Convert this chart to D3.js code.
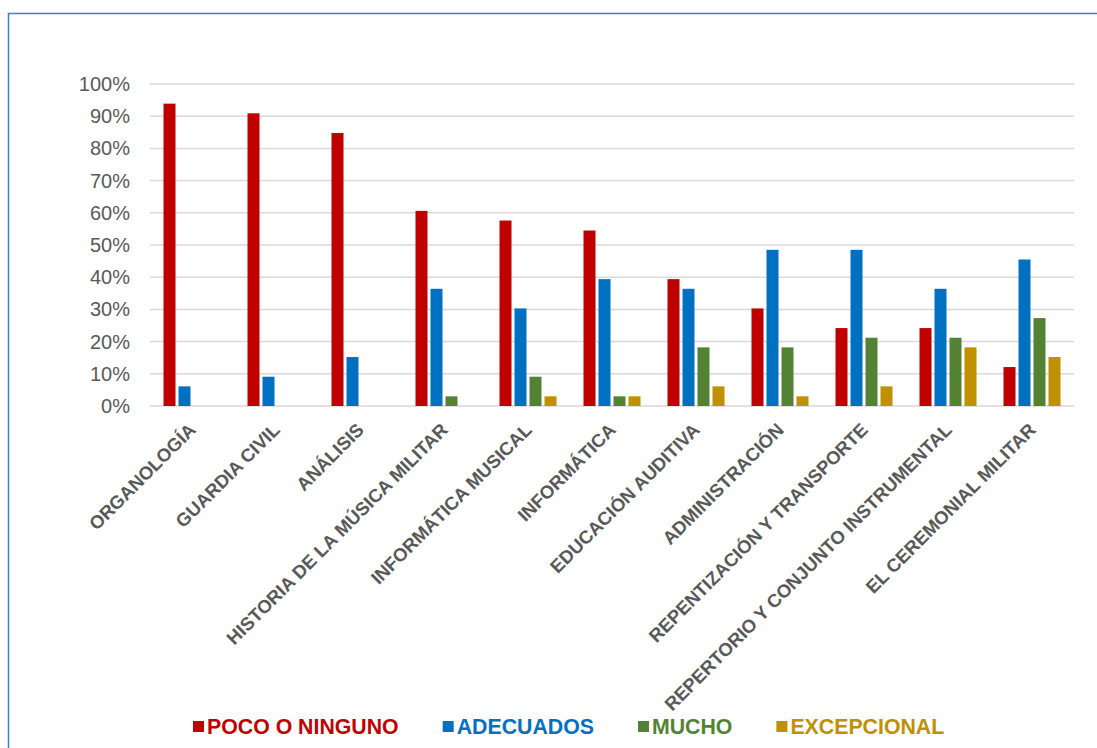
<!DOCTYPE html>
<html>
<head>
<meta charset="utf-8">
<script src="https://cdn.jsdelivr.net/npm/d3@7"></script>
<style>
  body { margin: 0; background: #fff; }
  svg { display: block; font-family: "Liberation Sans", Arial, sans-serif; }
</style>
</head>
<body>
<svg id="chart" width="1097" height="748"></svg>
<script>
// asignaturas
var categories = ["ORGANOLOGÍA", "GUARDIA CIVIL", "ANÁLISIS", "HISTORIA DE LA MÚSICA MILITAR",
    "INFORMÁTICA MUSICAL", "INFORMÁTICA", "EDUCACIÓN AUDITIVA", "ADMINISTRACIÓN",
    "REPENTIZACIÓN Y TRANSPORTE", "REPERTORIO Y CONJUNTO INSTRUMENTAL", "EL CEREMONIAL MILITAR"];
var seriesNames = ["POCO O NINGUNO", "ADECUADOS", "MUCHO", "EXCEPCIONAL"];
var seriesColors = ["#C00000", "#0070C0", "#548235", "#BF9000"];

// porcentajes por serie
var poco = [93.9, 90.9, 84.8, 60.6, 57.6, 54.5, 39.4, 30.3, 24.2, 24.2, 12.1];
var adecuados = [6.1, 9.1, 15.2, 36.4, 30.3, 39.4, 36.4, 48.5, 48.5, 36.4, 45.5];
var mucho = [0, 0, 0, 3.0, 9.1, 3.0, 18.2, 18.2, 21.2, 21.2, 27.3];
var excepcional = [0, 0, 0, 0, 3.0, 3.0, 6.1, 3.0, 6.1, 18.2, 15.2];
var yTicks = [0, 10, 20, 30, 40, 50, 60, 70, 80, 90, 100];

var values = [poco, adecuados, mucho, excepcional];

var svg = d3.select("#chart");
var plotLeft = 150, plotRight = 1074, plotTop = 84, plotBottom = 406;

// marco del grafico
svg.append("path")
    .attr("d", "M8.5,760V13.5H1110")
    .attr("fill", "none")
    .attr("stroke", "#3F7FC6")
    .attr("stroke-width", 1.5);

var x = d3.scaleBand().domain(categories).range([plotLeft, plotRight]);
var inner = d3.scaleBand().domain(d3.range(4)).range([0, 57]).paddingInner(0.2);
var y = d3.scaleLinear().domain([0, 100]).range([plotBottom, plotTop]);

// lineas de cuadricula
svg.append("g").selectAll("line")
    .data(yTicks)
    .join("line")
    .attr("x1", plotLeft).attr("x2", plotRight)
    .attr("y1", function (d) { return y(d); })
    .attr("y2", function (d) { return y(d); })
    .attr("stroke", "#D9D9D9")
    .attr("stroke-width", 1.5);

svg.append("g").selectAll("text")
    .data(yTicks)
    .join("text")
    .attr("x", 130)
    .attr("y", function (d) { return y(d); })
    .attr("dy", "0.35em")
    .attr("text-anchor", "end")
    .attr("font-size", 20)
    .attr("fill", "#595959")
    .text(function (d) { return d + "%"; });

// barras
var offset = (x.bandwidth() - 57) / 2;
values.forEach(function (serie, s) {
    svg.append("g").selectAll("rect")
        .data(serie)
        .join("rect")
        .attr("x", function (d, i) { return x(categories[i]) + offset + inner(s); })
        .attr("y", function (d) { return y(d); })
        .attr("width", inner.bandwidth())
        .attr("height", function (d) { return plotBottom - y(d); })
        .attr("fill", seriesColors[s]);
});

// etiquetas del eje x
svg.append("g").selectAll("text")
    .data(categories)
    .join("text")
    .attr("transform", function (d) {
        return "translate(" + (x(d) + x.bandwidth() / 2 + 5) + "," + 431 + ") rotate(-45)";
    })
    .attr("text-anchor", "end")
    .attr("font-size", 18.5)
    .attr("font-weight", "bold")
    .attr("fill", "#595959")
    .text(function (d) { return d; });

// leyenda
var lx = 193;
seriesNames.forEach(function (name, s) {
    svg.append("rect")
        .attr("x", lx).attr("y", 721)
        .attr("width", 11).attr("height", 11)
        .attr("fill", seriesColors[s]);
    var t = svg.append("text")
        .attr("x", lx + 14).attr("y", 727)
        .attr("dy", "0.35em")
        .attr("font-size", 21.3)
        .attr("font-weight", "bold")
        .attr("fill", seriesColors[s])
        .text(name);
    lx += 14 + t.node().getComputedTextLength() + 44;
});
</script>
</body>
</html>
